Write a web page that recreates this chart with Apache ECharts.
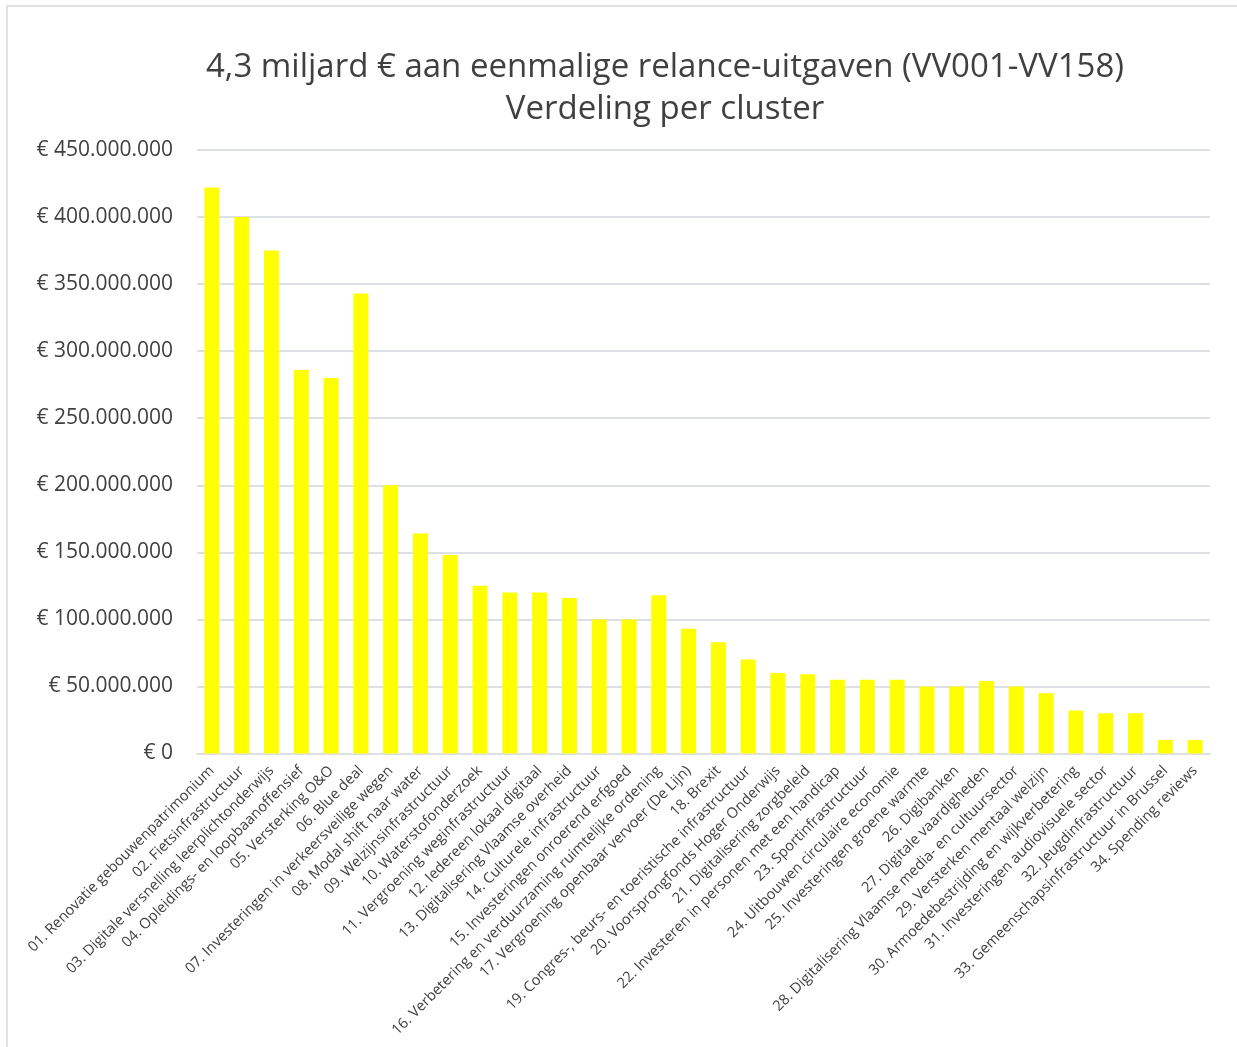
<!DOCTYPE html>
<html>
<head>
<meta charset="utf-8">
<script src="https://cdn.jsdelivr.net/npm/echarts@6/dist/echarts.min.js"></script>
<style>html,body{margin:0;padding:0;background:#fff}#c{width:1237px;height:1047px}</style>
</head>
<body>
<div id="c"></div>
<script>
const titleLines = ['4,3 miljard € aan eenmalige relance-uitgaven (VV001-VV158)', 'Verdeling per cluster'];
const categories = [
  '01. Renovatie gebouwenpatrimonium',
  '02. Fietsinfrastructuur',
  '03. Digitale versnelling leerplichtonderwijs',
  '04. Opleidings- en loopbaanoffensief',
  '05. Versterking O&O',
  '06. Blue deal',
  '07. Investeringen in verkeersveilige wegen',
  '08. Modal shift naar water',
  '09. Welzijnsinfrastructuur',
  '10. Waterstofonderzoek',
  '11. Vergroening weginfrastructuur',
  '12. Iedereen lokaal digitaal',
  '13. Digitalisering Vlaamse overheid',
  '14. Culturele infrastructuur',
  '15. Investeringen onroerend erfgoed',
  '16. Verbetering en verduurzaming ruimtelijke ordening',
  '17. Vergroening openbaar vervoer (De Lijn)',
  '18. Brexit',
  '19. Congres-, beurs- en toeristische infrastructuur',
  '20. Voorsprongfonds Hoger Onderwijs',
  '21. Digitalisering zorgbeleid',
  '22. Investeren in personen met een handicap',
  '23. Sportinfrastructuur',
  '24. Uitbouwen circulaire economie',
  '25. Investeringen groene warmte',
  '26. Digibanken',
  '27. Digitale vaardigheden',
  '28. Digitalisering Vlaamse media- en cultuursector',
  '29. Versterken mentaal welzijn',
  '30. Armoedebestrijding en wijkverbetering',
  '31. Investeringen audiovisuele sector',
  '32. Jeugdinfrastructuur',
  '33. Gemeenschapsinfrastructuur in Brussel',
  '34. Spending reviews'
];
const values = [
  422000000, 400000000, 375000000, 286000000, 280000000, 343000000,
  200000000, 164000000, 148000000, 125000000, 120000000, 120000000,
  116000000, 100000000, 100000000, 118000000, 93000000, 83000000,
  70000000, 60000000, 59000000, 55000000, 55000000, 55000000,
  50000000, 50000000, 54000000, 50000000, 45000000, 32000000,
  30000000, 30000000, 10000000, 10000000
];
const yMin = 0, yMax = 450000000, yStep = 50000000;

function fmtEuro(v) {
  const s = String(Math.round(v)).replace(/\B(?=(\d{3})+(?!\d))/g, '.');
  return '€ ' + s;
}

const chart = echarts.init(document.getElementById('c'), null, {renderer: 'canvas'});
const txt = '#404040';
chart.setOption({
  backgroundColor: '#ffffff',
  animation: false,
  title: {
    text: titleLines.join('\n'),
    left: 660,
    top: 42,
    textAlign: 'center',
    textStyle: {fontFamily: 'Open Sans', fontSize: 33, fontWeight: 'normal', color: txt, lineHeight: 42}
  },
  graphic: [{
    type: 'rect', silent: true, z: -1,
    shape: {x: 7, y: 6, width: 1260, height: 1070},
    style: {fill: 'none', stroke: '#d9d9d9', lineWidth: 1.5}
  }],
  grid: {left: 197, right: 27, top: 150, bottom: 293.5, containLabel: false},
  xAxis: {
    type: 'category',
    data: categories,
    axisLine: {show: true, lineStyle: {color: '#dde1e6', width: 2}},
    axisTick: {show: false},
    axisLabel: {
      interval: 0, rotate: 45, margin: 15,
      fontFamily: 'Open Sans', fontSize: 14.6, color: txt
    }
  },
  yAxis: {
    type: 'value',
    min: yMin, max: yMax, interval: yStep,
    axisLine: {show: false},
    axisTick: {show: false},
    splitLine: {lineStyle: {color: '#dde1e6', width: 2}},
    axisLabel: {
      formatter: fmtEuro, margin: 24,
      fontFamily: 'Open Sans', fontSize: 21, color: txt
    }
  },
  series: [{
    type: 'bar',
    data: values,
    barWidth: 15,
    itemStyle: {color: '#ffff00'}
  }]
});
</script>
</body>
</html>
